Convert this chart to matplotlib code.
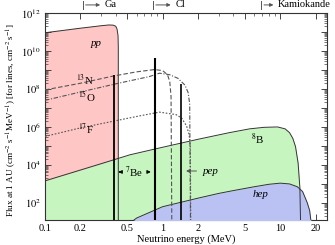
import numpy as np
import matplotlib
matplotlib.use("Agg")
import matplotlib.pyplot as plt
import matplotlib.transforms as mtransforms
from matplotlib.ticker import LogLocator, FixedLocator, FixedFormatter, NullFormatter

plt.rcParams['font.family'] = ['Liberation Serif', 'DejaVu Serif']
plt.rcParams['mathtext.fontset'] = 'stix'

# spectra: energy (MeV) and log10 of flux
pp_E = [0.1, 0.15, 0.2, 0.25, 0.3, 0.35, 0.38, 0.40, 0.41, 0.418, 0.42, 0.42]
pp_logF = [10.96, 11.1, 11.2, 11.27, 11.33, 11.37, 11.36, 11.3, 11.15, 10.8, 10.2, 0]

b8_E = [0.1, 0.2, 0.38, 0.525, 1.0, 2.0, 3.7, 5.5, 7.3, 9.5, 11.0, 12.0, 12.8, 13.5, 14.2, 14.7, 15.0]
b8_logF = [3.16, 3.73, 4.26, 4.53, 4.93, 5.35, 5.7, 5.9, 5.98, 6.0, 5.9, 5.7, 5.4, 4.96, 4.1, 2.8, 0]

hep_E = [0.52, 0.6, 1.0, 2.0, 3.0, 4.0, 6.0, 8.0, 10.0, 12.0, 14.0, 15.5, 16.5, 17.0, 17.8, 18.3, 18.6]
hep_logF = [0.9, 1.2, 1.8, 2.25, 2.5, 2.65, 2.85, 2.98, 3.04, 3.0, 2.85, 2.6, 2.2, 2.0, 1.6, 1.0, 0]

n13_E = [0.1, 0.2, 0.38, 0.6, 0.85, 1.0, 1.1, 1.15, 1.18, 1.2]
n13_logF = [7.95, 8.3, 8.68, 8.9, 9.02, 8.97, 8.75, 8.4, 7.6, 0]

o15_E = [0.1, 0.2, 0.42, 0.77, 0.94, 1.15, 1.35, 1.55, 1.65, 1.70, 1.73]
o15_logF = [7.4, 7.84, 8.3, 8.65, 8.83, 8.75, 8.56, 8.2, 7.8, 7.2, 0]

f17_E = [0.1, 0.2, 0.38, 0.6, 0.94, 1.3, 1.45, 1.6, 1.68, 1.72, 1.74]
f17_logF = [5.5, 5.95, 6.3, 6.55, 6.78, 6.65, 6.47, 6.05, 5.6, 5.0, 0]

# monochromatic lines: 7Be (two) and pep
line_E = [0.384, 0.862, 1.442]
line_logF = [8.74, 9.63, 8.26]

# detector thresholds shown at the top
thresh_names = ['Ga', 'Cl', 'Kamiokande']
thresh_E = [0.21, 0.83, 6.9]

xticks = [0.1, 0.2, 0.5, 1, 2, 5, 10, 20]
xticklabels = ['0.1', '0.2', '0.5', '1', '2', '5', '10', '20']
yexp = [2, 4, 6, 8, 10, 12]

ymin = 10 ** 1.1
floor = 1e-3

fig = plt.figure(figsize=(3.35, 2.45), dpi=100)
ax = fig.add_axes([45 / 335, 25 / 245, 282 / 335, 207 / 245])
ax.set_xscale('log')
ax.set_yscale('log')

pink, green, blue = '#ffc6c6', '#c6f5bf', '#b9c2f3'
edge = '#333333'


def flux(lst):
    return [10.0 ** v for v in lst]


ax.fill_between(pp_E, flux(pp_logF), floor, color=pink, lw=0, zorder=1)
ax.plot(pp_E, flux(pp_logF), color=edge, lw=0.7, zorder=4)
ax.fill_between(b8_E, flux(b8_logF), floor, color=green, lw=0, zorder=2)
ax.fill_between(hep_E, flux(hep_logF), floor, color=blue, lw=0, zorder=3)
ax.plot(b8_E, flux(b8_logF), color=edge, lw=0.7, zorder=4)
ax.plot(hep_E, flux(hep_logF), color=edge, lw=0.7, zorder=4)

cno_col = '#555555'
ax.plot(n13_E, flux(n13_logF), color=cno_col, lw=0.8, ls=(0, (4, 2)), zorder=5)
ax.plot(o15_E, flux(o15_logF), color=cno_col, lw=0.8, ls=(0, (4, 1.5, 1, 1.5)), zorder=5)
ax.plot(f17_E, flux(f17_logF), color=cno_col, lw=0.8, ls=(0, (1.5, 1.5)), zorder=5)

for e, lf, w in zip(line_E, line_logF, [1.3, 1.5, 1.2]):
    ax.vlines(e, floor, 10 ** lf, color='black', lw=w, zorder=6)

ax.set_xlim(0.1, 25)
ax.set_ylim(ymin, 1e12)

ax.xaxis.set_major_locator(FixedLocator(xticks))
ax.xaxis.set_major_formatter(FixedFormatter(xticklabels))
ax.xaxis.set_minor_locator(LogLocator(base=10, subs=np.arange(2, 10), numticks=20))
ax.xaxis.set_minor_formatter(NullFormatter())
ax.yaxis.set_major_locator(LogLocator(base=10, numticks=20))
ax.yaxis.set_major_formatter(
    matplotlib.ticker.FuncFormatter(
        lambda v, p: (r'$10^{%d}$' % round(np.log10(v))) if round(np.log10(v)) in yexp else ''))
ax.yaxis.set_minor_locator(LogLocator(base=10, subs=np.arange(2, 10), numticks=20))
ax.yaxis.set_minor_formatter(NullFormatter())
ax.tick_params(which='both', direction='in', top=True, right=True, labelsize=7.5, color='#444444')
ax.tick_params(which='major', length=4, width=0.7, pad=3)
ax.tick_params(which='minor', length=2, width=0.5)
for s in ax.spines.values():
    s.set_linewidth(0.8)
    s.set_color('#333333')

ax.set_xlabel('Neutrino energy (MeV)', fontsize=7.5, labelpad=1)
fig.text(11 / 335, (245 - 120) / 245,
         r'Flux at 1 AU (cm$^{-2}$ s$^{-1}$MeV$^{-1}$) [for lines, cm$^{-2}$ s$^{-1}$]',
         rotation=90, fontsize=6.6, ha='center', va='center')

# labels inside the plot
fs = 7.8
ax.text(0.274, 10 ** 10.4, 'pp', style='italic', fontsize=fs, ha='center', va='center', zorder=7)
ax.text(0.22, 10 ** 8.48, r'$^{13}$N', fontsize=fs, ha='center', va='center', zorder=7)
ax.text(0.225, 10 ** 7.62, r'$^{15}$O', fontsize=fs, ha='center', va='center', zorder=7)
ax.text(0.225, 10 ** 5.9, r'$^{17}$F', fontsize=fs, ha='center', va='center', zorder=7)
ax.text(6.44, 10 ** 5.32, r'$^{8}$B', fontsize=fs, ha='center', va='center', zorder=7)
ax.text(6.85, 10 ** 2.46, 'hep', style='italic', fontsize=fs, ha='center', va='center', zorder=7)
ax.text(0.567, 10 ** 3.63, r'$^{7}$Be', fontsize=fs, ha='center', va='center', zorder=7)
ax.annotate('', xy=(0.399, 10 ** 3.63), xytext=(0.46, 10 ** 3.63),
            arrowprops=dict(arrowstyle='-|>', color='black', lw=0.7, mutation_scale=5), zorder=7)
ax.annotate('', xy=(0.837, 10 ** 3.63), xytext=(0.71, 10 ** 3.63),
            arrowprops=dict(arrowstyle='-|>', color='black', lw=0.7, mutation_scale=5), zorder=7)
ax.annotate('', xy=(1.5, 10 ** 3.68), xytext=(2.05, 10 ** 3.68),
            arrowprops=dict(arrowstyle='-|>', color='#555555', lw=0.7, mutation_scale=5), zorder=7)
ax.text(2.18, 10 ** 3.68, 'pep', style='italic', fontsize=fs, ha='left', va='center', zorder=7)

# threshold arrows above the axes
trans = mtransforms.blended_transform_factory(ax.transData, ax.transAxes)
ytop = 1.039
arrow_len = [1.48, 1.49, 1.34]
for name, e, k in zip(thresh_names, thresh_E, arrow_len):
    ax.plot([e, e], [ytop - 0.018, ytop + 0.018], color='#555555', lw=0.7,
            transform=trans, clip_on=False)
    ax.annotate('', xy=(e * k, ytop), xytext=(e, ytop), xycoords=trans, textcoords=trans,
                arrowprops=dict(arrowstyle='-|>', color='#555555', lw=0.7, mutation_scale=5),
                annotation_clip=False)
    ax.text(e * k * 1.04, ytop, name, fontsize=7.5, ha='left', va='center',
            transform=trans, clip_on=False)

fig.savefig('out.png', dpi=100)
